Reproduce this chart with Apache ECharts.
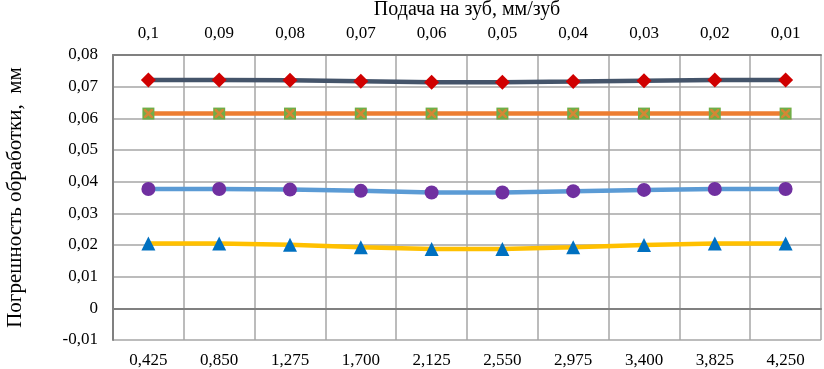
<!DOCTYPE html>
<html>
<head>
<meta charset="utf-8">
<script src="https://cdn.jsdelivr.net/npm/echarts@6/dist/echarts.min.js"></script>
<style>
  html, body { margin: 0; padding: 0; background: #fff; }
  #chart { width: 824px; height: 369px; }
</style>
</head>
<body>
<div id="chart"></div>
<script>
// bottom axis: depth values, top axis: feed per tooth
const bottomLabels = ["0,425", "0,850", "1,275", "1,700", "2,125", "2,550", "2,975", "3,400", "3,825", "4,250"];
const topLabels = ["0,1", "0,09", "0,08", "0,07", "0,06", "0,05", "0,04", "0,03", "0,02", "0,01"];

const seriesDiamond = [0.0721, 0.0721, 0.0720, 0.0717, 0.0714, 0.0714, 0.0716, 0.0719, 0.0721, 0.0721];
const seriesSquare = [0.0615, 0.0615, 0.0615, 0.0615, 0.0615, 0.0615, 0.0615, 0.0615, 0.0615, 0.0615];
const seriesCircle = [0.0377, 0.0377, 0.0375, 0.0371, 0.0366, 0.0366, 0.0370, 0.0374, 0.0377, 0.0377];
const seriesTriangle = [0.0205, 0.0205, 0.0201, 0.0193, 0.0187, 0.0187, 0.0193, 0.0200, 0.0205, 0.0205];

const font = "'Liberation Serif', 'Times New Roman', serif";
const chart = echarts.init(document.getElementById("chart"));

const crossPath = "path://M0,0 L2,0 L5,3 L8,0 L10,0 L10,2 L7,5 L10,8 L10,10 L8,10 L5,7 L2,10 L0,10 L0,8 L3,5 L0,2 Z";

const option = {
  animation: false,
  grid: { left: 113, right: 3, top: 55, bottom: 29, containLabel: false, outerBoundsMode: "none" },
  xAxis: [
    {
      type: "category",
      data: bottomLabels,
      position: "bottom",
      axisLine: { show: true, lineStyle: { color: "#808080", width: 2 } },
      axisTick: { show: false },
      axisLabel: { color: "#000", fontFamily: font, fontSize: 17, margin: 12 },
      splitLine: { show: true, lineStyle: { color: "#A6A6A6", width: 1.5 } },
    },
    {
      type: "category",
      data: topLabels,
      position: "top",
      name: "Подача на зуб, мм/зуб",
      nameLocation: "middle",
      nameGap: 31,
      nameTextStyle: { color: "#000", fontFamily: font, fontSize: 20 },
      axisLine: { show: true, lineStyle: { color: "#808080", width: 2 } },
      axisTick: { show: false },
      axisLabel: { color: "#000", fontFamily: font, fontSize: 17, margin: 13 },
      splitLine: { show: false },
    },
  ],
  yAxis: {
    type: "value",
    min: -0.01,
    max: 0.08,
    interval: 0.01,
    name: "Погрешность обработки,  мм",
    nameLocation: "middle",
    nameGap: 87,
    nameTextStyle: { color: "#000", fontFamily: font, fontSize: 21 },
    axisLine: { show: true, lineStyle: { color: "#808080", width: 2 } },
    axisTick: { show: false },
    axisLabel: {
      color: "#000",
      fontFamily: font,
      fontSize: 17,
      margin: 15,
      formatter: (v) => {
        const r = Math.round(v * 100) / 100;
        if (r === 0) return "0";
        return r.toFixed(2).replace(".", ",");
      },
    },
    splitLine: { show: true, lineStyle: { color: "#A6A6A6", width: 1.5 } },
  },
  series: [
    {
      type: "line",
      data: seriesDiamond,
      symbol: "diamond",
      symbolSize: 15,
      lineStyle: { color: "#44546A", width: 4.5 },
      itemStyle: { color: "#D00000" },
    },
    {
      type: "line",
      data: seriesSquare,
      symbol: "rect",
      symbolSize: 12,
      lineStyle: { color: "#ED7D31", width: 4.5 },
      itemStyle: { color: "#70AD47" },
    },
    {
      type: "line",
      data: seriesSquare,
      symbol: crossPath,
      symbolSize: 9,
      lineStyle: { width: 0, opacity: 0 },
      itemStyle: { color: "#ED7D31", opacity: 0.8 },
      z: 3,
    },
    {
      type: "line",
      data: seriesCircle,
      symbol: "circle",
      symbolSize: 14,
      lineStyle: { color: "#5B9BD5", width: 4.5 },
      itemStyle: { color: "#7030A0" },
    },
    {
      type: "line",
      data: seriesTriangle,
      symbol: "triangle",
      symbolSize: 14,
      lineStyle: { color: "#FFC000", width: 4.5 },
      itemStyle: { color: "#0070C0" },
    },
  ],
};

chart.setOption(option);
</script>
</body>
</html>
